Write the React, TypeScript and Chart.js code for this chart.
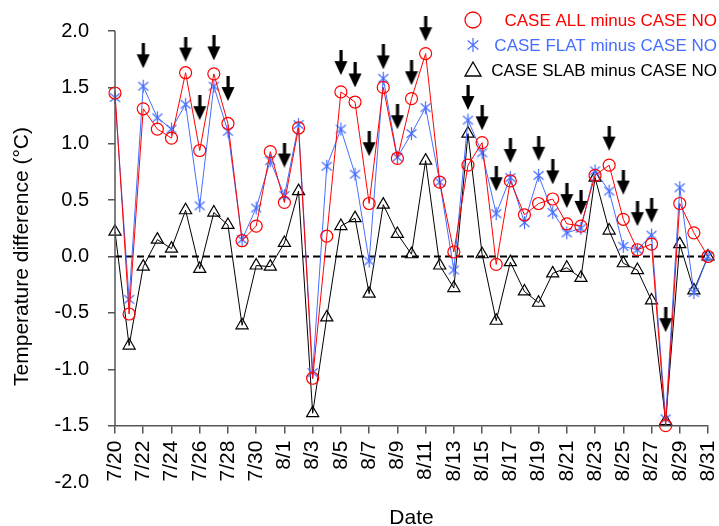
import React, { useEffect, useRef } from 'react';
import { Chart, registerables } from 'chart.js';

Chart.register(...registerables);

const dates = [
  '7/20', '7/21', '7/22', '7/23', '7/24', '7/25', '7/26', '7/27', '7/28', '7/29', '7/30', '7/31',
  '8/1', '8/2', '8/3', '8/4', '8/5', '8/6', '8/7', '8/8', '8/9', '8/10', '8/11', '8/12', '8/13',
  '8/14', '8/15', '8/16', '8/17', '8/18', '8/19', '8/20', '8/21', '8/22', '8/23', '8/24', '8/25',
  '8/26', '8/27', '8/28', '8/29', '8/30', '8/31',
];

const caseAll = [
  1.45, -0.51, 1.31, 1.13, 1.05, 1.63, 0.94, 1.62, 1.18, 0.14, 0.27, 0.93,
  0.48, 1.14, -1.08, 0.18, 1.46, 1.37, 0.47, 1.50, 0.87, 1.40, 1.80, 0.66, 0.04,
  0.81, 1.01, -0.07, 0.67, 0.37, 0.47, 0.51, 0.29, 0.27, 0.72, 0.81, 0.33,
  0.06, 0.11, -1.50, 0.47, 0.21, 0.00,
];

const caseFlat = [
  1.41, -0.38, 1.51, 1.23, 1.13, 1.35, 0.45, 1.51, 1.11, 0.15, 0.43, 0.85,
  0.54, 1.17, -1.03, 0.80, 1.13, 0.73, -0.04, 1.58, 0.88, 1.09, 1.32, 0.66, -0.12,
  1.21, 0.92, 0.38, 0.70, 0.30, 0.72, 0.39, 0.21, 0.25, 0.76, 0.58, 0.09,
  0.06, 0.19, -1.44, 0.61, -0.32, 0.00,
];

const caseSlab = [
  0.22, -0.79, -0.09, 0.15, 0.07, 0.41, -0.11, 0.39, 0.28, -0.61, -0.08, -0.09,
  0.12, 0.58, -1.39, -0.54, 0.27, 0.34, -0.33, 0.46, 0.20, 0.02, 0.85, -0.08, -0.28,
  1.09, 0.02, -0.57, -0.05, -0.31, -0.41, -0.15, -0.10, -0.19, 0.70, 0.23, -0.06,
  -0.12, -0.39, -1.46, 0.11, -0.30, 0.00,
];

// arrow markers (centre value), null where no arrow
const arrowY = [
  null, null, 1.78, null, null, 1.84, 1.32, 1.85, 1.49, null, null, null,
  0.90, null, null, null, 1.72, 1.61, 1.00, 1.77, 1.24, 1.63, 2.02, null, null,
  1.41, 1.23, 0.69, 0.94, null, 0.96, 0.75, 0.54, 0.48, null, 1.05, 0.66,
  0.38, 0.41, -0.56, null, null, null,
];

const seriesLabels = ['CASE ALL minus CASE NO', 'CASE FLAT minus CASE NO', 'CASE SLAB minus CASE NO'];
const yMin = -2.0;
const yMax = 2.0;
const yStep = 0.5;
const xAxisAt = -1.5;
const referenceValue = 0;

const RED = '#ff0000';
const BLUE = 'rgb(70,110,255)';
const BLACK = '#000000';
const AXIS = '#555555';
const FONT = "'Liberation Sans', Arial, sans-serif";

function makeArrow(): HTMLCanvasElement {
  const c = document.createElement('canvas');
  c.width = 14;
  c.height = 25;
  const g = c.getContext('2d')!;
  g.fillStyle = '#000';
  g.fillRect(5.5, 0, 3.2, 12);
  g.beginPath();
  g.moveTo(0.5, 11);
  g.lineTo(13.5, 11);
  g.lineTo(7, 25);
  g.closePath();
  g.fill();
  return c;
}

function makeAsterisk(color: string, r: number): HTMLCanvasElement {
  const s = Math.ceil(r * 2 + 4);
  const c = document.createElement('canvas');
  c.width = s;
  c.height = s;
  const g = c.getContext('2d')!;
  const cx = s / 2;
  const cy = s / 2;
  g.strokeStyle = color;
  g.lineWidth = 1.2;
  g.beginPath();
  g.moveTo(cx, cy - r);
  g.lineTo(cx, cy + r);
  const a = (40 * Math.PI) / 180;
  const dx = r * Math.cos(a);
  const dy = r * Math.sin(a);
  g.moveTo(cx - dx, cy - dy);
  g.lineTo(cx + dx, cy + dy);
  g.moveTo(cx - dx, cy + dy);
  g.lineTo(cx + dx, cy - dy);
  g.stroke();
  return c;
}

const refLinePlugin = {
  id: 'refLine',
  beforeDatasetsDraw(chart: any) {
    const { ctx, chartArea, scales } = chart;
    const y = scales.y.getPixelForValue(referenceValue);
    ctx.save();
    ctx.strokeStyle = BLACK;
    ctx.lineWidth = 2;
    ctx.setLineDash([7, 4]);
    ctx.beginPath();
    ctx.moveTo(chartArea.left, y);
    ctx.lineTo(chartArea.right, y);
    ctx.stroke();
    ctx.restore();
  },
};

const yAxisLinePlugin = {
  id: 'yAxisLine',
  afterDraw(chart: any) {
    const { ctx, chartArea, scales } = chart;
    const x = chartArea.left;
    ctx.save();
    ctx.strokeStyle = AXIS;
    ctx.lineWidth = 1.5;
    ctx.beginPath();
    ctx.moveTo(x, scales.y.getPixelForValue(yMax));
    ctx.lineTo(x, scales.y.getPixelForValue(xAxisAt));
    ctx.stroke();
    ctx.restore();
  },
};

const legendPlugin = {
  id: 'customLegend',
  afterDraw(chart: any) {
    const { ctx } = chart;
    const markerX = 473;
    const textRight = 717;
    const rows = [20, 45, 70];
    const colors = [RED, BLUE, BLACK];
    ctx.save();
    ctx.font = `17px ${FONT}`;
    ctx.textAlign = 'right';
    ctx.textBaseline = 'middle';
    ctx.strokeStyle = RED;
    ctx.lineWidth = 1.3;
    ctx.beginPath();
    ctx.arc(markerX, rows[0], 8, 0, Math.PI * 2);
    ctx.stroke();
    const ast = makeAsterisk(BLUE, 7);
    ctx.drawImage(ast, markerX - ast.width / 2, rows[1] - ast.height / 2);
    ctx.strokeStyle = BLACK;
    ctx.beginPath();
    ctx.moveTo(markerX, rows[2] - 8);
    ctx.lineTo(markerX + 8, rows[2] + 6);
    ctx.lineTo(markerX - 8, rows[2] + 6);
    ctx.closePath();
    ctx.stroke();
    seriesLabels.forEach((t, i) => {
      ctx.fillStyle = colors[i];
      ctx.fillText(t, textRight, rows[i] + 1);
    });
    ctx.restore();
  },
};

export default function App() {
  const ref = useRef<HTMLCanvasElement>(null);

  useEffect(() => {
    if (!ref.current) return;
    Chart.defaults.font.family = FONT;
    Chart.defaults.color = '#000';
    const arrow = makeArrow();
    const asterisk = makeAsterisk(BLUE, 6.5);

    const chart = new Chart(ref.current, {
      type: 'line',
      data: {
        labels: dates,
        datasets: [
          {
            label: 'arrows',
            data: arrowY,
            showLine: false,
            pointStyle: arrow as any,
            pointRadius: 10,
            clip: false as any,
            order: 0,
          },
          {
            label: seriesLabels[0],
            data: caseAll,
            borderColor: RED,
            borderWidth: 1,
            pointStyle: 'circle',
            pointRadius: 6,
            pointBorderWidth: 1.2,
            pointBorderColor: RED,
            pointBackgroundColor: 'rgba(0,0,0,0)',
            clip: false as any,
            order: 1,
          },
          {
            label: seriesLabels[1],
            data: caseFlat,
            borderColor: BLUE,
            borderWidth: 1,
            pointStyle: asterisk as any,
            pointRadius: 7,
            clip: false as any,
            order: 2,
          },
          {
            label: seriesLabels[2],
            data: caseSlab,
            borderColor: BLACK,
            borderWidth: 1,
            pointStyle: 'triangle',
            pointRadius: 7,
            pointBorderWidth: 1.2,
            pointBorderColor: BLACK,
            pointBackgroundColor: 'rgba(255,255,255,0)',
            clip: false as any,
            order: 3,
          },
        ],
      },
      options: {
        animation: false,
        responsive: false,
        events: [],
        layout: { padding: { left: 0, top: 29, right: 10, bottom: 44 } },
        plugins: {
          legend: { display: false },
          tooltip: { enabled: false },
        },
        elements: { line: { tension: 0 } },
        scales: {
          x: {
            type: 'category',
            position: { y: xAxisAt } as any,
            offset: false,
            afterFit: (s: any) => {
              s.paddingLeft = 0;
              s.paddingRight = 0;
            },
            border: { display: true, color: AXIS, width: 1.5 },
            grid: {
              drawOnChartArea: false,
              drawTicks: true,
              tickLength: 7,
              lineWidth: 1.5,
              color: (c: any) => (c.index % 2 === 0 ? AXIS : 'rgba(0,0,0,0)'),
            },
            ticks: {
              autoSkip: false,
              minRotation: 90,
              maxRotation: 90,
              padding: 8,
              font: { size: 21 },
              color: '#000',
              callback: (_v: any, i: number) => (i % 2 === 0 ? dates[i] : ''),
            },
            title: {
              display: true,
              text: 'Date',
              font: { size: 21 },
              color: '#000',
              padding: { top: 16, bottom: 0 },
            },
          },
          y: {
            type: 'linear',
            position: 'left',
            min: yMin,
            max: yMax,
            afterFit: (s: any) => {
              s.width = 115;
            },
            border: { display: false },
            grid: {
              drawOnChartArea: false,
              drawTicks: true,
              tickLength: 7,
              lineWidth: 1.5,
              color: (c: any) => (c.tick && c.tick.value === yMin ? 'rgba(0,0,0,0)' : AXIS),
            },
            ticks: {
              stepSize: yStep,
              padding: 19,
              font: { size: 20 },
              color: '#000',
              callback: (v: any) => Number(v).toFixed(1),
            },
            title: {
              display: true,
              text: 'Temperature difference (°C)',
              font: { size: 21 },
              color: '#000',
              padding: { top: 10, bottom: 0 },
            },
          },
        },
      },
      plugins: [refLinePlugin, yAxisLinePlugin, legendPlugin],
    });
    return () => chart.destroy();
  }, []);

  return (
    <div style={{ position: 'absolute', left: 0, top: 0, width: 719, height: 526, background: '#fff' }}>
      <canvas ref={ref} width={719} height={526} style={{ display: 'block' }} />
    </div>
  );
}
